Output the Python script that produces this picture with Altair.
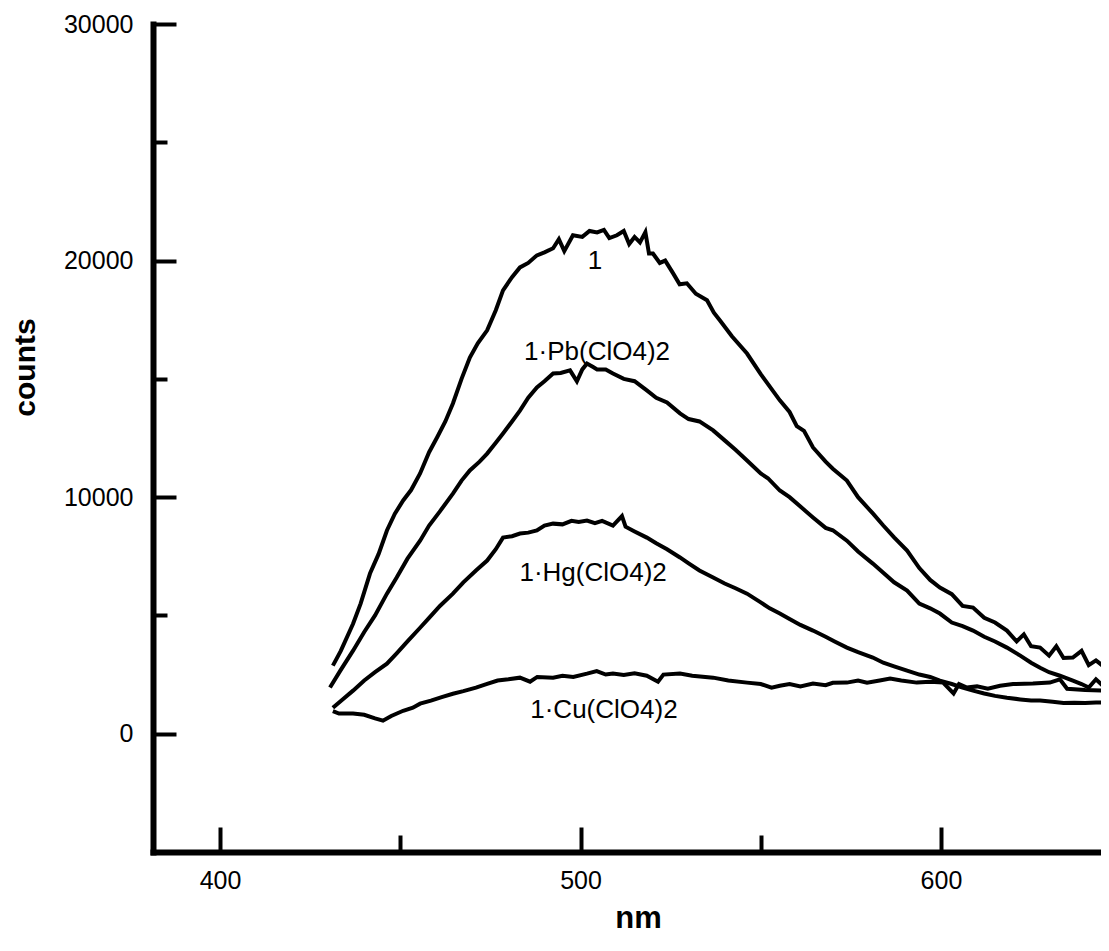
import altair as alt
import pandas as pd

# ---- data (wavelength nm, counts) ----
s1_nm = [431.3, 433.5, 436.9, 439.0, 441.6, 444.0, 446.3, 448.5, 450.8, 453.0, 455.5, 458.0, 460.2, 462.5,
         464.6, 467.0, 469.3, 471.5, 474.1, 476.5, 478.5, 481.0, 483.2, 485.5, 487.9, 490.0, 492.4, 494.0,
         495.5, 497.9, 500.5, 502.5, 504.6, 506.5, 508.0, 510.1, 512.0, 513.5, 515.0, 516.5, 518.0, 519.0,
         520.1, 522.0, 523.5, 525.7, 527.5, 529.5, 532.0, 535.1, 537.0, 538.7, 542.0, 546.2, 550.0, 555.3,
         558.0, 560.0, 562.0, 564.5, 568.0, 570.0, 573.9, 577.0, 581.1, 584.0, 587.0, 590.6, 594.0, 597.0,
         599.7, 603.0, 606.0, 608.9, 612.0, 615.0, 618.3, 621.0, 623.0, 625.0, 627.5, 630.0, 632.0, 634.0,
         636.6, 639.0, 641.0, 643.0, 645.5]
s1_ct = [2880, 3500, 4650, 5500, 6770, 7600, 8590, 9300, 9860, 10300, 11000, 11900, 12520, 13200,
         13960, 15000, 15900, 16500, 17050, 17900, 18740, 19300, 19710, 19900, 20220, 20350, 20520, 20900,
         20400, 21070, 21000, 21250, 21190, 21300, 20950, 21070, 21250, 20700, 21000, 20770, 21200, 20300,
         20300, 19900, 20000, 19460, 19000, 19040, 18600, 18320, 17800, 17470, 16800, 16070, 15200, 14090,
         13600, 13000, 12800, 12100, 11500, 11200, 10700, 10000, 9310, 8800, 8300, 7740, 7000, 6500,
         6180, 5900, 5400, 5330, 4900, 4700, 4360, 3900, 4200, 3700, 3640, 3300, 3700, 3200,
         3220, 3500, 2900, 3100, 2800]

pb_nm = [430.5, 433.5, 436.9, 440.0, 443.0, 446.3, 449.0, 452.0, 455.5, 458.0, 461.0, 464.6, 467.0, 469.3,
         472.0, 474.1, 476.5, 478.5, 481.0, 483.2, 485.5, 487.9, 490.0, 492.4, 494.5, 497.1, 499.0, 500.5,
         501.8, 503.5, 504.6, 507.0, 509.0, 512.0, 515.0, 518.4, 521.0, 524.0, 527.6, 530.0, 533.0, 536.8,
         540.0, 543.0, 546.2, 550.0, 552.0, 555.3, 558.0, 561.0, 564.5, 568.0, 570.0, 573.9, 577.0, 581.1,
         584.0, 587.0, 590.6, 594.0, 597.0, 599.7, 603.0, 606.0, 608.9, 612.0, 615.0, 618.3, 622.0, 625.0,
         627.5, 630.0, 633.0, 636.6, 639.0, 641.0, 643.0, 645.5]
pb_ct = [1950, 2700, 3510, 4300, 5000, 5920, 6600, 7400, 8160, 8800, 9400, 10150, 10700, 11130,
         11500, 11840, 12300, 12690, 13200, 13660, 14200, 14640, 14900, 15230, 15250, 15360, 14900, 15400,
         15650, 15500, 15400, 15400, 15230, 15000, 14900, 14510, 14200, 14000, 13540, 13300, 13200, 12820,
         12400, 12000, 11550, 11000, 10800, 10280, 10000, 9600, 9140, 8700, 8600, 8160, 7700, 7190,
         6800, 6400, 6050, 5500, 5300, 5080, 4700, 4550, 4360, 4100, 3900, 3640, 3300, 3000,
         2790, 2600, 2450, 2240, 2100, 1950, 2300, 1950]

hg_nm = [431.3, 434.0, 436.9, 440.0, 443.0, 446.3, 449.0, 452.0, 455.5, 458.0, 461.0, 464.6, 467.5, 471.0,
         474.1, 476.5, 478.5, 481.0, 483.2, 485.5, 487.9, 490.0, 492.4, 495.0, 497.5, 499.5, 501.8, 504.0,
         506.0, 509.0, 511.5, 512.5, 515.0, 518.4, 521.0, 524.0, 527.6, 530.0, 533.0, 536.8, 540.0, 543.0,
         546.2, 550.0, 552.5, 555.3, 558.0, 561.0, 564.5, 568.0, 570.5, 573.9, 577.0, 581.1, 584.0, 587.0,
         590.6, 594.0, 597.0, 599.7, 603.0, 606.0, 608.9, 612.0, 615.0, 618.3, 622.0, 625.0, 627.5, 631.0,
         634.0, 637.0, 640.0, 643.0, 645.5]
hg_ct = [1100, 1450, 1820, 2250, 2600, 2960, 3400, 3900, 4480, 4900, 5400, 5920, 6400, 6900,
         7320, 7800, 8290, 8350, 8460, 8500, 8590, 8800, 8880, 8850, 9000, 8950, 9010, 8900,
         9000, 8800, 9200, 8750, 8550, 8290, 8050, 7800, 7450, 7200, 6900, 6600, 6350, 6150,
         5920, 5550, 5300, 5080, 4850, 4600, 4360, 4100, 3900, 3640, 3450, 3220, 3000, 2850,
         2670, 2500, 2400, 2240, 2100, 1950, 1820, 1700, 1600, 1520, 1450, 1400, 1400, 1350,
         1300, 1310, 1300, 1320, 1310]

cu_nm = [431.3, 433.0, 436.9, 440.0, 443.0, 445.2, 447.5, 450.8, 453.5, 455.5, 458.5, 461.5, 464.6, 467.5,
         471.0, 474.1, 477.0, 480.0, 483.2, 486.0, 488.0, 492.4, 495.0, 498.0, 501.8, 504.5, 507.0, 509.0,
         512.0, 515.0, 518.4, 521.5, 523.0, 527.6, 531.0, 536.8, 541.0, 546.2, 550.0, 553.0, 555.3, 558.0,
         561.0, 564.5, 568.0, 570.0, 573.9, 577.0, 579.5, 583.0, 585.9, 589.0, 593.3, 597.0, 600.6, 603.5,
         605.0, 607.2, 610.0, 613.0, 616.4, 620.0, 625.5, 630.2, 633.0, 635.0, 640.0, 645.5]
cu_ct = [950, 850, 850, 800, 650, 550, 750, 970, 1100, 1270, 1400, 1550, 1690, 1800,
         1950, 2110, 2250, 2300, 2370, 2200, 2400, 2370, 2450, 2400, 2540, 2650, 2500, 2540,
         2480, 2550, 2450, 2200, 2500, 2540, 2450, 2370, 2250, 2160, 2100, 1950, 2030, 2100,
         2000, 2120, 2050, 2150, 2160, 2250, 2160, 2250, 2330, 2250, 2160, 2200, 2160, 1700,
         2100, 1950, 2000, 1900, 2030, 2100, 2120, 2160, 2300, 1900, 1850, 1820]

label_text = ["1", "1·Pb(ClO4)2", "1·Hg(ClO4)2", "1·Cu(ClO4)2"]
label_nm = [504.0, 504.6, 503.5, 506.5]
label_ct = [20000, 16130, 6790, 1000]

x_major = [400, 500, 600]
x_all = [400, 450, 500, 550, 600]
y_major = [0, 10000, 20000, 30000]
y_all = [0, 5000, 10000, 15000, 20000, 25000, 30000]

X_DOMAIN = [381.4, 644.4]
Y_DOMAIN = [-5000, 30000]
W, H = 948, 828
FONT = "Liberation Sans"

rows = []
for name, xs, ys in [("1", s1_nm, s1_ct), ("Pb", pb_nm, pb_ct), ("Hg", hg_nm, hg_ct), ("Cu", cu_nm, cu_ct)]:
    for a, b in zip(xs, ys):
        rows.append({"series": name, "nm": a, "counts": b})
lines_df = pd.DataFrame(rows)
labels_df = pd.DataFrame({"label": label_text, "nm": label_nm, "counts": label_ct})

xs = alt.Scale(domain=X_DOMAIN, nice=False, zero=False)
ys = alt.Scale(domain=Y_DOMAIN, nice=False, zero=False)

lines = alt.Chart(lines_df).mark_line(color="black", strokeWidth=4, clip=True).encode(
    x=alt.X("nm:Q", scale=xs, axis=alt.Axis(
        orient="bottom", values=x_major, ticks=False, grid=False, format="d",
        domainColor="black", domainWidth=6, domainCap="square",
        labelFont=FONT, labelFontSize=25, labelColor="black", labelPadding=16,
        title="nm", titleFont=FONT, titleFontSize=31, titleFontWeight="bold", titleColor="black",
        titleX=485, titleY=75, titleAlign="center", titleBaseline="alphabetic")),
    y=alt.Y("counts:Q", scale=ys, axis=alt.Axis(
        orient="left", values=y_major, ticks=False, grid=False, format="d",
        domainColor="black", domainWidth=6, domainCap="square",
        labelFont=FONT, labelFontSize=25, labelColor="black", labelPadding=20,
        title="counts", titleFont=FONT, titleFontSize=30, titleFontWeight="bold", titleColor="black",
        titleX=-128, titleY=343, titleAngle=270, titleAlign="center", titleBaseline="middle")),
    detail="series:N",
)

texts = alt.Chart(labels_df).mark_text(font=FONT, fontSize=26, color="black",
                                        align="center", baseline="middle").encode(
    x=alt.X("nm:Q", scale=xs, axis=alt.Axis(
        orient="top", offset=-H, values=x_all, labels=False, domain=False, grid=False, title=None,
        tickColor="black", tickWidth=4,
        tickSize={"condition": {"test": "datum.value % 100 === 0", "value": 25}, "value": 17})),
    y=alt.Y("counts:Q", scale=ys, axis=alt.Axis(
        orient="right", offset=-W, values=y_all, labels=False, domain=False, grid=False, title=None,
        tickColor="black", tickWidth=4,
        tickSize={"condition": {"test": "datum.value % 10000 === 0", "value": 23}, "value": 14})),
    text="label:N",
)

chart = alt.layer(lines, texts).resolve_scale(x="shared", y="shared").resolve_axis(
    x="independent", y="independent"
).properties(
    width=W, height=H,
    autosize=alt.AutoSizeParams(type="none"),
    padding={"left": 145, "top": 16, "right": 0, "bottom": 82},
    background="white",
).configure_view(stroke=None)

chart.save("out.html", embed_options={"renderer": "svg", "actions": False})
